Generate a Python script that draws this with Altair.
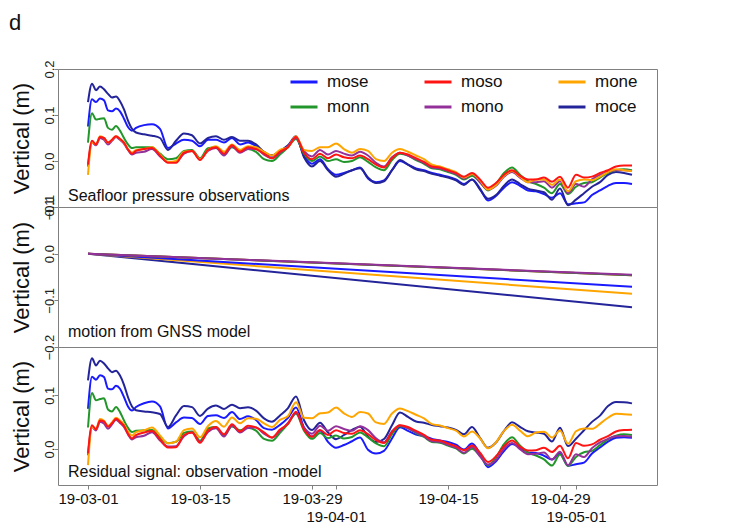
import altair as alt
import pandas as pd

FONT = "Liberation Sans"

# Stations, in legend order, and their line colours
stations = ["mose", "moso", "mone", "monn", "mono", "moce"]
station_colors = ["#1a1aff", "#ff1414", "#ffa500", "#22962a", "#93309a", "#24249a"]

# Sample times in days after 2019-03-01 (half-day steps over the first week)
days = [0, 0.5, 1, 1.5, 2, 2.5, 3, 3.5, 4, 4.5, 5, 5.5, 6] + list(range(7, 69))

# Seafloor pressure observations, vertical (m)
mose_obs = [0.075, 0.134, 0.128, 0.136, 0.132, 0.110, 0.108, 0.114, 0.108, 0.092, 0.074, 0.066, 0.072,
            0.078, 0.080, 0.070, 0.028, 0.038, 0.046, 0.044, 0.032, 0.046, 0.046, 0.040, 0.050, 0.036,
            0.040, 0.032, 0.016, 0.012, 0.020, 0.032, 0.050, 0.012, -0.006, 0.004, -0.018, -0.030,
            -0.026, -0.020, -0.014, -0.038, -0.046, -0.042, -0.020, 0.000, -0.008, -0.016, -0.020,
            -0.026, -0.030, -0.034, -0.040, -0.050, -0.040, -0.060, -0.086, -0.076, -0.058, -0.046,
            -0.054, -0.064, -0.066, -0.072, -0.080, -0.070, -0.094, -0.092, -0.090, -0.074, -0.064,
            -0.054, -0.048, -0.048, -0.050]
moso_obs = [-0.008, 0.044, 0.036, 0.052, 0.050, 0.040, 0.046, 0.054, 0.048, 0.040, 0.025, 0.016, 0.022,
            0.026, 0.028, 0.012, -0.004, -0.004, 0.018, 0.022, 0.002, 0.024, 0.030, 0.016, 0.034, 0.020,
            0.030, 0.026, 0.016, 0.006, 0.020, 0.030, 0.052, 0.018, 0.004, 0.016, 0.006, 0.014, 0.008,
            0.006, 0.012, 0.004, -0.008, -0.014, 0.006, 0.018, 0.014, 0.006, -0.002, -0.012, -0.014,
            -0.020, -0.026, -0.034, -0.026, -0.040, -0.058, -0.048, -0.030, -0.020, -0.032, -0.040,
            -0.040, -0.036, -0.045, -0.034, -0.058, -0.030, -0.036, -0.034, -0.026, -0.020, -0.012,
            -0.010, -0.010]
mone_obs = [-0.030, 0.040, 0.036, 0.054, 0.050, 0.040, 0.046, 0.054, 0.048, 0.040, 0.026, 0.018, 0.024,
            0.026, 0.030, 0.014, -0.002, 0.000, 0.020, 0.022, 0.004, 0.024, 0.032, 0.020, 0.036, 0.024,
            0.032, 0.030, 0.020, 0.012, 0.024, 0.030, 0.054, 0.024, 0.022, 0.030, 0.030, 0.038, 0.026,
            0.018, 0.026, 0.022, 0.004, 0.000, 0.018, 0.026, 0.020, 0.012, 0.004, -0.008, -0.012,
            -0.018, -0.024, -0.036, -0.028, -0.042, -0.062, -0.052, -0.032, -0.022, -0.034, -0.046,
            -0.040, -0.040, -0.052, -0.040, -0.066, -0.044, -0.040, -0.042, -0.034, -0.024, -0.018,
            -0.020, -0.022]
monn_obs = [0.040, 0.104, 0.090, 0.092, 0.093, 0.072, 0.068, 0.076, 0.066, 0.050, 0.036, 0.028, 0.030,
            0.030, 0.030, 0.016, 0.004, 0.006, 0.022, 0.024, 0.006, 0.028, 0.030, 0.014, 0.030, 0.022,
            0.026, 0.020, 0.004, 0.000, 0.014, 0.030, 0.048, 0.016, 0.000, 0.010, 0.000, 0.004, -0.002,
            0.000, 0.008, -0.002, -0.014, -0.020, 0.002, 0.016, 0.012, 0.002, -0.006, -0.016, -0.018,
            -0.024, -0.030, -0.040, -0.032, -0.046, -0.064, -0.050, -0.026, -0.014, -0.030, -0.044,
            -0.050, -0.058, -0.070, -0.050, -0.072, -0.056, -0.048, -0.046, -0.036, -0.026, -0.020,
            -0.018, -0.020]
mono_obs = [-0.012, 0.040, 0.034, 0.050, 0.046, 0.036, 0.044, 0.052, 0.046, 0.038, 0.024, 0.014, 0.018,
            0.020, 0.026, 0.010, -0.002, -0.002, 0.016, 0.022, 0.004, 0.022, 0.028, 0.012, 0.032, 0.018,
            0.026, 0.026, 0.014, 0.006, 0.018, 0.032, 0.050, 0.022, 0.010, 0.024, 0.014, 0.022, 0.016,
            0.012, 0.020, 0.012, -0.004, -0.012, 0.008, 0.018, 0.012, 0.004, -0.004, -0.014, -0.016,
            -0.022, -0.028, -0.038, -0.028, -0.046, -0.062, -0.054, -0.034, -0.024, -0.036, -0.046,
            -0.046, -0.044, -0.058, -0.044, -0.070, -0.050, -0.056, -0.040, -0.030, -0.024, -0.020,
            -0.020, -0.022]
moce_obs = [0.128, 0.168, 0.154, 0.162, 0.156, 0.146, 0.138, 0.140, 0.130, 0.112, 0.088, 0.070, 0.062,
            0.058, 0.055, 0.050, 0.024, 0.044, 0.060, 0.056, 0.038, 0.050, 0.054, 0.046, 0.052, 0.044,
            0.044, 0.036, 0.020, 0.012, 0.022, 0.034, 0.054, 0.008, -0.012, 0.000, -0.020, -0.034,
            -0.028, -0.020, -0.016, -0.036, -0.048, -0.044, -0.020, 0.002, -0.008, -0.018, -0.022,
            -0.028, -0.032, -0.036, -0.042, -0.052, -0.040, -0.062, -0.082, -0.074, -0.054, -0.040,
            -0.050, -0.060, -0.064, -0.068, -0.084, -0.060, -0.096, -0.084, -0.070, -0.056, -0.046,
            -0.030, -0.024, -0.026, -0.030]

observations = {"mose": mose_obs, "moso": moso_obs, "mone": mone_obs,
                "monn": monn_obs, "mono": mono_obs, "moce": moce_obs}

# GNSS model: straight-line vertical motion from 0 at the first day to these values at the last day
gnss_days = [0, 68]
gnss_end = {"mose": -0.071, "moso": -0.046, "mone": -0.086,
            "monn": -0.046, "mono": -0.045, "moce": -0.115}

base = pd.Timestamp("2019-03-01")


def iso(d):
    return (base + pd.Timedelta(days=d)).strftime("%Y-%m-%dT%H:%M:%SZ")


# drawing order (later = on top)
order_obs = ["mose", "moce", "monn", "mono", "mone", "moso"]
order_gnss = ["moce", "mone", "mose", "moso", "monn", "mono"]

obs_rows, res_rows, gnss_rows = [], [], []
for st in order_obs:
    for d, v in zip(days, observations[st]):
        model = gnss_end[st] * d / gnss_days[1]
        obs_rows.append({"date": iso(d), "station": st, "value": v})
        res_rows.append({"date": iso(d), "station": st, "value": v - model})
for st in order_gnss:
    gnss_rows.append({"date": iso(gnss_days[0]), "station": st, "value": 0.0})
    gnss_rows.append({"date": iso(gnss_days[1]), "station": st, "value": gnss_end[st]})

obs_df = pd.DataFrame(obs_rows)
res_df = pd.DataFrame(res_rows)
gnss_df = pd.DataFrame(gnss_rows)

W, H1, H2, H3 = 599, 138, 140, 138

x_scale = alt.Scale(
    type="utc",
    domain=[alt.DateTime(year=2019, month=2, date=25, hours=6, utc=True),
            alt.DateTime(year=2019, month=5, date=11, hours=3, utc=True)],
)
color_scale = alt.Scale(domain=stations, range=station_colors)

tick_dates = [alt.DateTime(year=2019, month=m, date=dd, utc=True)
              for m, dd in [(3, 1), (3, 15), (3, 29), (4, 1), (4, 15), (4, 29), (5, 1)]]


def y_axis(values, h):
    return alt.Axis(
        values=values, format=".1f", title="Vertical (m)",
        labelAngle=270, labelAlign="center", labelBaseline="alphabetic",
        labelPadding=1, tickSize=4, tickColor="#808080", domain=False, grid=False,
        labelFontSize=13, labelColor="#222222", labelOverlap=False, labelFlush=False,
        titleFontSize=22, titleFontWeight="normal", titleColor="#111111",
        titleX=-37, titleY=h / 2, titleAngle=270, titleBaseline="middle", titleAlign="center",
    )


def lines(df, h, domain, yvals, legend=None, x_axis=None):
    return alt.Chart(df).mark_line(strokeWidth=2, interpolate="monotone").encode(
        x=alt.X("date:T", scale=x_scale, axis=x_axis),
        y=alt.Y("value:Q", scale=alt.Scale(domain=domain, nice=False, zero=False),
                axis=y_axis(yvals, h)),
        color=alt.Color("station:N", scale=color_scale, legend=legend),
    )


def note(text, y):
    return alt.Chart(pd.DataFrame({"t": [text]})).mark_text(
        align="left", baseline="alphabetic", fontSize=16, font=FONT, color="#111111"
    ).encode(x=alt.value(10), y=alt.value(y), text="t:N")


legend = alt.Legend(
    title=None, orient="none", legendX=231, legendY=-2, columns=3, direction="horizontal",
    symbolType="stroke", symbolSize=729, symbolStrokeWidth=3,
    labelFontSize=17, labelFont=FONT, labelColor="#111111", labelOffset=8,
    columnPadding=48, rowPadding=2, padding=0,
)

x_axis = alt.Axis(
    values=tick_dates, title=None, tickSize=4, tickColor="#808080", domain=False, grid=False,
    labelFontSize=15, labelColor="#111111", labelPadding=2, labelLineHeight=18,
    labelFlush=False, labelOverlap=False, labelBaseline="top",
    labelExpr="utcdate(datum.value) == 1 && utcmonth(datum.value) >= 3 ? "
              "['', utcFormat(datum.value, '%y-%m-%d')] : utcFormat(datum.value, '%y-%m-%d')",
)

panel_tag = alt.Chart(pd.DataFrame({"t": ["d"]})).mark_text(
    align="left", baseline="top", fontSize=22, font=FONT, color="#111111"
).encode(x=alt.value(-49), y=alt.value(-56), text="t:N")

top = alt.layer(
    lines(obs_df, H1, [-0.1, 0.2], [-0.1, 0.0, 0.1, 0.2], legend=legend),
    note("Seafloor pressure observations", 132),
    panel_tag,
).properties(width=W, height=H1)

middle = alt.layer(
    lines(gnss_df, H2, [-0.2, 0.1], [-0.2, -0.1, 0.0, 0.1]),
    note("motion from GNSS model", 130),
).properties(width=W, height=H2)

bottom = alt.layer(
    lines(res_df, H3, [-0.067, 0.19], [0.0, 0.1], x_axis=x_axis),
    note("Residual signal: observation -model", 130),
).properties(width=W, height=H3)

chart = alt.vconcat(top, middle, bottom, spacing=0, bounds="flush").resolve_legend(
    color="independent"
).properties(
    padding={"left": 8, "top": 11, "right": 5, "bottom": 4}
).configure(font=FONT, background="white").configure_view(stroke="#808080", strokeWidth=1)

chart.save("out.html", embed_options={"renderer": "svg", "actions": False})
